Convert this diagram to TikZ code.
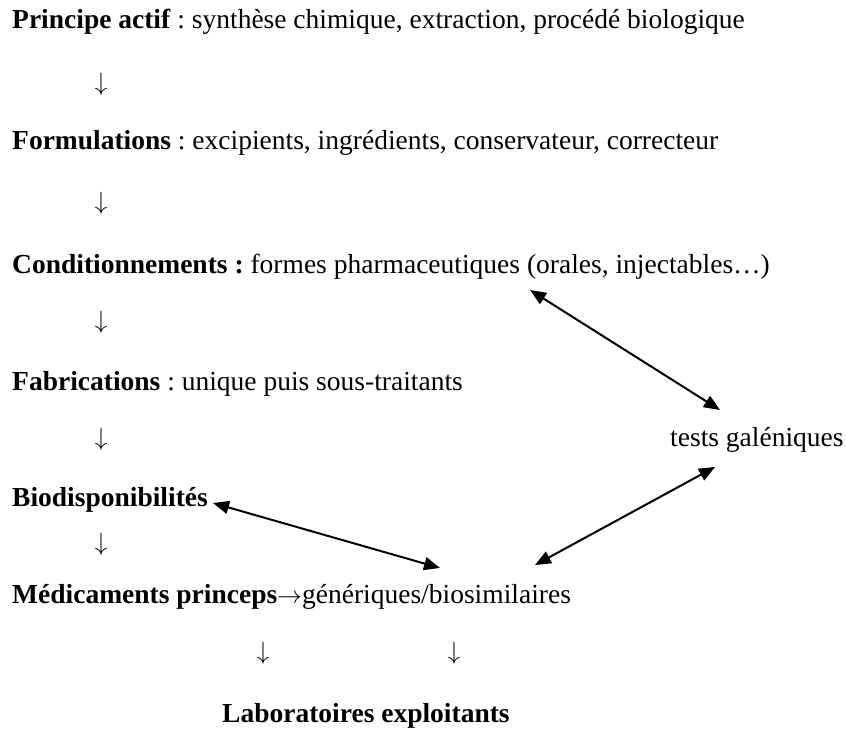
\documentclass[tikz,border=0pt]{standalone}
\usepackage{fontspec}
\setmainfont{Liberation Serif}
\frenchspacing
\usetikzlibrary{arrows.meta}

\begin{document}
\begin{tikzpicture}[x=1pt,y=-1pt,
    txt/.style={anchor=west,inner sep=0pt,font=\fontsize{27.5}{32}\selectfont},
    down/.style={inner sep=0pt,font=\fontsize{24}{28}\selectfont},
    dbl/.style={{Triangle[length=16pt,width=13pt]}-{Triangle[length=16pt,width=13pt]},line width=2pt}]

    \useasboundingbox (0,0) rectangle (846,729);

    \node[txt] (pa) at (12,22) {\textbf{Principe actif} : synthèse chimique, extraction, procédé biologique};
    \node[down] (d1) at (101,84) {$\downarrow$};
    \node[txt] (fo) at (12,143) {\textbf{Formulations} : excipients, ingrédients, conservateur, correcteur};
    \node[down] (d2) at (101,203) {$\downarrow$};
    \node[txt] (co) at (12,267) {\textbf{Conditionnements :} formes pharmaceutiques (orales, injectables…)};
    \node[down] (d3) at (101,322) {$\downarrow$};
    \node[txt] (fa) at (12,384) {\textbf{Fabrications} : unique puis sous-traitants};
    \node[down] (d4) at (101,439) {$\downarrow$};
    \node[txt] (tg) at (670,440) {tests galéniques};
    \node[txt] (bi) at (12,500) {\textbf{Biodisponibilités}};
    \node[down] (d5) at (101,544) {$\downarrow$};
    \node[txt] (me) at (12,597) {\textbf{Médicaments princeps}$\rightarrow$génériques/biosimilaires};
    \node[down] (d6) at (263,653) {$\downarrow$};
    \node[down] (d7) at (454,653) {$\downarrow$};
    \node[txt] (la) at (222,716) {\textbf{Laboratoires exploitants}};

    \coordinate (c1) at (530,290);
    \coordinate (c2) at (720,410);
    \coordinate (c3) at (715,467);
    \coordinate (c4) at (535,565);
    \coordinate (c5) at (213,503);
    \coordinate (c6) at (440,568);

     \path [dbl] (c1) edge (c2);
     \path [dbl] (c3) edge (c4);
     \path [dbl] (c5) edge (c6);
\end{tikzpicture}
\end{document}
